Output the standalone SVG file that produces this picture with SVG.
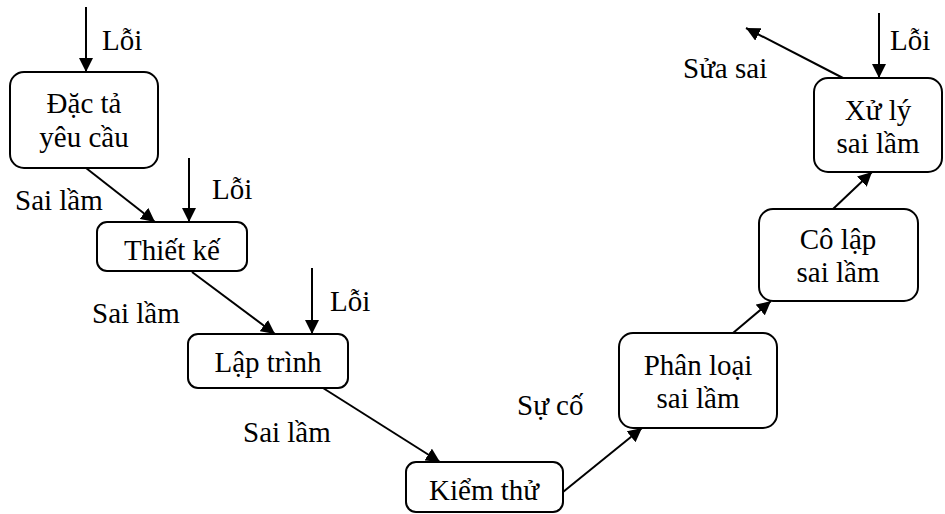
<svg xmlns="http://www.w3.org/2000/svg" width="945" height="514" viewBox="0 0 945 514">
<defs>
<style>
.box{fill:#fff;stroke:#000;stroke-width:2}
.t{font-family:"Liberation Serif","Times New Roman",serif;font-size:29px;fill:#000}
.c{text-anchor:middle}
.ln{stroke:#000;stroke-width:2;fill:none;marker-end:url(#ah)}
</style>
<marker id="ah" viewBox="0 0 10 10" refX="10" refY="5" markerWidth="7" markerHeight="7" markerUnits="strokeWidth" orient="auto">
<path d="M0,0 L10,5 L0,10 z" fill="#000"/>
</marker>
</defs>
<rect width="945" height="514" fill="#fff"/>
<g id="connectors">
<line class="ln" x1="86" y1="7" x2="86" y2="72"/>
<line class="ln" x1="86" y1="168" x2="155" y2="222"/>
<line class="ln" x1="189" y1="158" x2="189" y2="222"/>
<line class="ln" x1="192" y1="272" x2="275" y2="334"/>
<line class="ln" x1="312" y1="268" x2="312" y2="334"/>
<line class="ln" x1="323" y1="388" x2="440" y2="462"/>
<line class="ln" x1="563" y1="492" x2="642" y2="428"/>
<line class="ln" x1="733" y1="333" x2="771" y2="301"/>
<line class="ln" x1="833" y1="209" x2="872" y2="172"/>
<line class="ln" x1="879" y1="13" x2="879" y2="78"/>
<line class="ln" x1="843" y1="78" x2="746" y2="28"/>
<text class="t" x="102" y="50">Lỗi</text>
<text class="t" x="212" y="199">Lỗi</text>
<text class="t" x="330" y="311">Lỗi</text>
<text class="t" x="890" y="50">Lỗi</text>
<text class="t" x="15" y="210">Sai lầm</text>
<text class="t" x="92" y="323">Sai lầm</text>
<text class="t" x="243" y="442">Sai lầm</text>
<text class="t" x="517" y="415">Sự cố</text>
<text class="t" x="683" y="78">Sửa sai</text>
</g>
<g id="dac-ta">
<rect class="box" x="10" y="72" width="148" height="96" rx="14"/>
<text class="t c" x="84" y="113">Đặc tả</text>
<text class="t c" x="84" y="147">yêu cầu</text>
</g>
<g id="thiet-ke">
<rect class="box" x="97" y="222" width="150" height="49" rx="10"/>
<text class="t c" x="172" y="260">Thiết kế</text>
</g>
<g id="lap-trinh">
<rect class="box" x="188" y="334" width="160" height="54" rx="10"/>
<text class="t c" x="268" y="372">Lập trình</text>
</g>
<g id="kiem-thu">
<rect class="box" x="406" y="462" width="157" height="50" rx="10"/>
<text class="t c" x="484" y="500">Kiểm thử</text>
</g>
<g id="phan-loai">
<rect class="box" x="619" y="333" width="158" height="95" rx="14"/>
<text class="t c" x="698" y="375">Phân loại</text>
<text class="t c" x="698" y="408">sai lầm</text>
</g>
<g id="co-lap">
<rect class="box" x="759" y="209" width="159" height="92" rx="14"/>
<text class="t c" x="838" y="249">Cô lập</text>
<text class="t c" x="838" y="282">sai lầm</text>
</g>
<g id="xu-ly">
<rect class="box" x="814" y="78" width="128" height="94" rx="14"/>
<text class="t c" x="878" y="120">Xử lý</text>
<text class="t c" x="878" y="153">sai lầm</text>
</g>
</svg>
